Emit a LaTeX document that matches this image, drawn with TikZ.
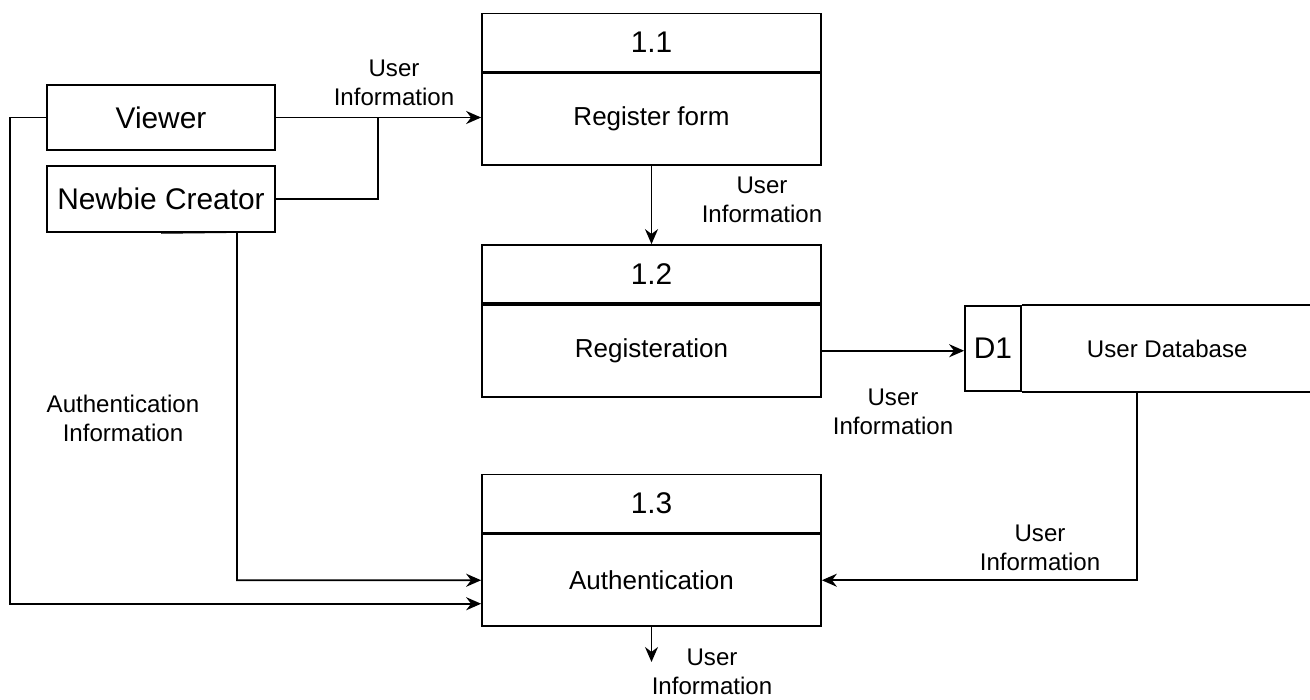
\documentclass[tikz,border=0pt]{standalone}
\usepackage{fontspec}
\setmainfont{Liberation Sans}
\usepackage{tikz}
\usetikzlibrary{arrows.meta, positioning}
\tikzset{>={Stealth[width=2.6mm,length=3mm]}}

\begin{document}
\begin{tikzpicture}[x=0.02cm, y=-0.02cm, line width=1pt, node distance=0pt,
	ext/.style = {draw, minimum width=4.56cm, minimum height=1.3cm, font=\fontsize{17}{20}\selectfont},
	prochead/.style = {draw, minimum width=6.78cm, minimum height=1.16cm, font=\fontsize{17}{20}\selectfont},
	procbody/.style = {draw, minimum width=6.78cm, minimum height=1.84cm, font=\fontsize{14.8}{18}\selectfont},
	lbl/.style = {align=center, font=\fontsize{13.7}{16.5}\selectfont}]
			\useasboundingbox (0,0) rectangle (1310,699);
			% external entities
			\node (viewer) [ext] at (161,117.5) {Viewer};
			\node (newbie) [ext, minimum height=1.32cm] at (161,199) {Newbie Creator};
			% processes
			\node (p1h) [prochead] at (651.5,42.5) {1.1};
			\node (p1) [procbody, below = of p1h] {Register form};
			\node (p2h) [prochead] at (651.5,274) {1.2};
			\node (p2) [procbody, below = of p2h] {Registeration};
			\node (p3h) [prochead] at (651.5,503.5) {1.3};
			\node (p3) [procbody, below = of p3h] {Authentication};
			% data store
			\node (dbid) [draw, minimum width=1.12cm, minimum height=1.7cm, font=\fontsize{17}{20}\selectfont] at (993,348.5) {D1};
			\node (dbname) [right = of dbid, minimum width=5.78cm, minimum height=1.7cm, font=\fontsize{13.7}{16.5}\selectfont] {User Database};
			\draw (dbid.north east) -- (dbname.north east);
			\draw (dbid.south east) -- (dbname.south east);
			% bends
			\coordinate (join) at (378,117.5);
			\coordinate (vcorner) at (10,117.5);
			\coordinate (nbcorner) at (237,232);
			\coordinate (out) at (651.5,662);
			% flows
			\draw[->] (viewer.east) -- (viewer.east -| p1.west);
			\draw (newbie.east) -| (join);
			\draw[->] (p1.south) -- (p2h.north);
			\draw[->] (p2.east) -- (p2.east -| dbid.west);
			\draw[->] ([xshift=-0.61cm]dbname.south) |- (p3.east);
			\draw[->] (newbie.south) -- (nbcorner) |- (p3.west);
			\draw[->] (viewer.west) -- (vcorner) |- ([yshift=-0.47cm]p3.west);
			\draw[->] (p3.south) -- (out);
			% labels
			\node (l1) [lbl] at (394,83) {User\\Information};
			\node (l2) [lbl] at (762,200) {User\\Information};
			\node (l3) [lbl] at (893,412) {User\\Information};
			\node (l4) [lbl] at (1040,548) {User\\Information};
			\node (l5) [lbl] at (123,418) {Authentication\\Information};
			\node (l6) [lbl] at (712,672) {User\\Information};
\end{tikzpicture}
\end{document}
